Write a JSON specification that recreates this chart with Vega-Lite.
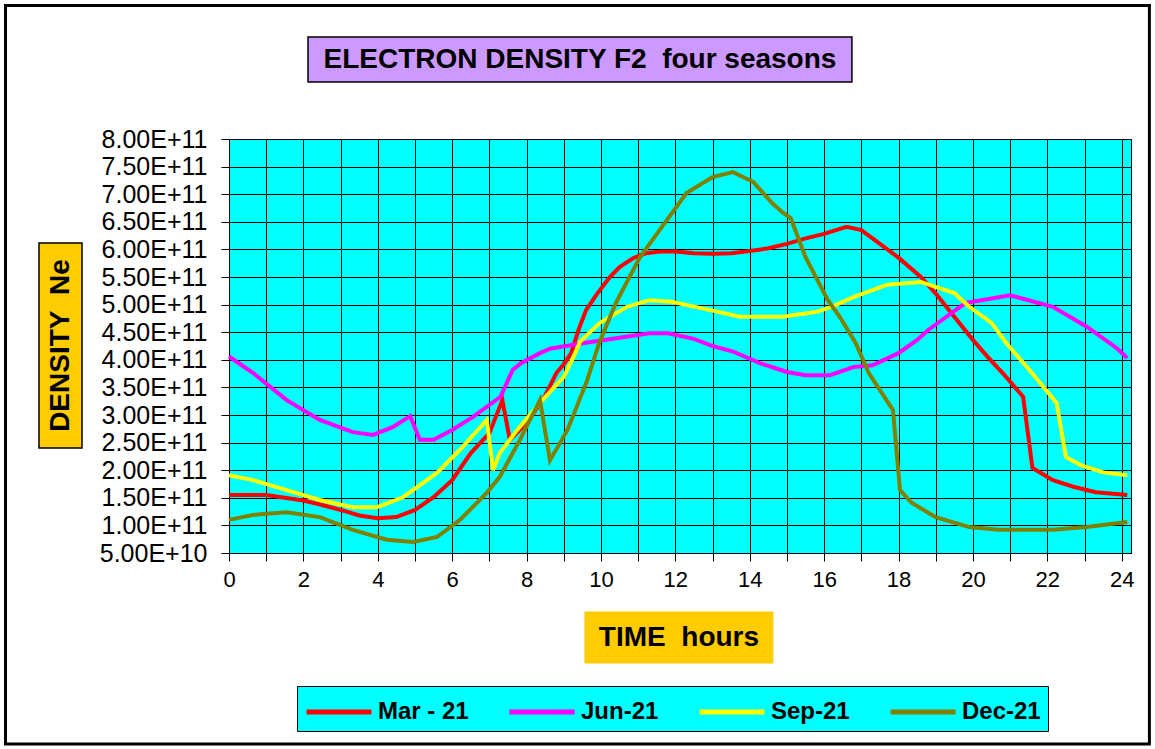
{
  "$schema": "https://vega.github.io/schema/vega-lite/v6.json",
  "autosize": "none",
  "width": 902,
  "height": 414,
  "padding": {"left": 229, "top": 139, "right": 24, "bottom": 196},
  "background": "#FFFFFF",
  "config": {
    "view": {"fill": "#00FFFF", "stroke": "#000000", "strokeWidth": 1},
    "axis": {"gridColor": "#000000", "gridOpacity": 1, "gridWidth": 1, "domainColor": "#000000", "tickColor": "#000000", "labelColor": "#000000", "labelFont": "Liberation Sans"},
    "text": {"font": "Liberation Sans"}
  },
  "datasets": {
    "density": [
      {"season":"Mar - 21","hour":0,"density":1.55e11},{"season":"Mar - 21","hour":0.5,"density":1.55e11},{"season":"Mar - 21","hour":1,"density":1.55e11},{"season":"Mar - 21","hour":1.5,"density":1.50e11},{"season":"Mar - 21","hour":2,"density":1.45e11},{"season":"Mar - 21","hour":2.5,"density":1.37e11},{"season":"Mar - 21","hour":3,"density":1.28e11},{"season":"Mar - 21","hour":3.5,"density":1.18e11},{"season":"Mar - 21","hour":4,"density":1.13e11},{"season":"Mar - 21","hour":4.5,"density":1.15e11},{"season":"Mar - 21","hour":5,"density":1.28e11},{"season":"Mar - 21","hour":5.5,"density":1.51e11},{"season":"Mar - 21","hour":6,"density":1.82e11},{"season":"Mar - 21","hour":6.5,"density":2.31e11},{"season":"Mar - 21","hour":7,"density":2.67e11},{"season":"Mar - 21","hour":7.35,"density":3.27e11},{"season":"Mar - 21","hour":7.55,"density":2.55e11},{"season":"Mar - 21","hour":8,"density":2.85e11},{"season":"Mar - 21","hour":8.5,"density":3.35e11},{"season":"Mar - 21","hour":8.8,"density":3.76e11},{"season":"Mar - 21","hour":9,"density":3.92e11},{"season":"Mar - 21","hour":9.2,"density":4.12e11},{"season":"Mar - 21","hour":9.4,"density":4.55e11},{"season":"Mar - 21","hour":9.6,"density":4.9e11},{"season":"Mar - 21","hour":9.9,"density":5.2e11},{"season":"Mar - 21","hour":10.24,"density":5.5e11},{"season":"Mar - 21","hour":10.5,"density":5.68e11},{"season":"Mar - 21","hour":10.86,"density":5.84e11},{"season":"Mar - 21","hour":11.2,"density":5.93e11},{"season":"Mar - 21","hour":11.6,"density":5.96e11},{"season":"Mar - 21","hour":12,"density":5.96e11},{"season":"Mar - 21","hour":12.5,"density":5.93e11},{"season":"Mar - 21","hour":13,"density":5.92e11},{"season":"Mar - 21","hour":13.5,"density":5.93e11},{"season":"Mar - 21","hour":14,"density":5.97e11},{"season":"Mar - 21","hour":14.5,"density":6.02e11},{"season":"Mar - 21","hour":15,"density":6.1e11},{"season":"Mar - 21","hour":15.5,"density":6.2e11},{"season":"Mar - 21","hour":16,"density":6.28e11},{"season":"Mar - 21","hour":16.6,"density":6.41e11},{"season":"Mar - 21","hour":17,"density":6.35e11},{"season":"Mar - 21","hour":17.5,"density":6.1e11},{"season":"Mar - 21","hour":18,"density":5.85e11},{"season":"Mar - 21","hour":18.6,"density":5.5e11},{"season":"Mar - 21","hour":19,"density":5.2e11},{"season":"Mar - 21","hour":19.5,"density":4.78e11},{"season":"Mar - 21","hour":20,"density":4.36e11},{"season":"Mar - 21","hour":20.4,"density":4.05e11},{"season":"Mar - 21","hour":20.8,"density":3.76e11},{"season":"Mar - 21","hour":21.35,"density":3.33e11},{"season":"Mar - 21","hour":21.6,"density":2.04e11},{"season":"Mar - 21","hour":22.15,"density":1.82e11},{"season":"Mar - 21","hour":22.7,"density":1.70e11},{"season":"Mar - 21","hour":23.3,"density":1.60e11},{"season":"Mar - 21","hour":24.15,"density":1.55e11},
      {"season":"Jun-21","hour":0,"density":4.06e11},{"season":"Jun-21","hour":0.65,"density":3.76e11},{"season":"Jun-21","hour":1.55,"density":3.27e11},{"season":"Jun-21","hour":2.44,"density":2.91e11},{"season":"Jun-21","hour":3.33,"density":2.69e11},{"season":"Jun-21","hour":3.87,"density":2.64e11},{"season":"Jun-21","hour":4.4,"density":2.78e11},{"season":"Jun-21","hour":4.87,"density":2.98e11},{"season":"Jun-21","hour":5.13,"density":2.55e11},{"season":"Jun-21","hour":5.5,"density":2.55e11},{"season":"Jun-21","hour":6,"density":2.73e11},{"season":"Jun-21","hour":6.55,"density":2.96e11},{"season":"Jun-21","hour":7.3,"density":3.33e11},{"season":"Jun-21","hour":7.63,"density":3.82e11},{"season":"Jun-21","hour":7.85,"density":3.94e11},{"season":"Jun-21","hour":8.36,"density":4.12e11},{"season":"Jun-21","hour":8.63,"density":4.2e11},{"season":"Jun-21","hour":9.5,"density":4.3e11},{"season":"Jun-21","hour":10.5,"density":4.4e11},{"season":"Jun-21","hour":11.3,"density":4.48e11},{"season":"Jun-21","hour":11.8,"density":4.48e11},{"season":"Jun-21","hour":12.5,"density":4.38e11},{"season":"Jun-21","hour":13,"density":4.25e11},{"season":"Jun-21","hour":13.55,"density":4.15e11},{"season":"Jun-21","hour":14.27,"density":3.94e11},{"season":"Jun-21","hour":15,"density":3.78e11},{"season":"Jun-21","hour":15.5,"density":3.72e11},{"season":"Jun-21","hour":16.16,"density":3.72e11},{"season":"Jun-21","hour":16.8,"density":3.87e11},{"season":"Jun-21","hour":17.3,"density":3.9e11},{"season":"Jun-21","hour":18,"density":4.12e11},{"season":"Jun-21","hour":18.5,"density":4.36e11},{"season":"Jun-21","hour":18.8,"density":4.54e11},{"season":"Jun-21","hour":19.8,"density":5.03e11},{"season":"Jun-21","hour":21,"density":5.17e11},{"season":"Jun-21","hour":22.15,"density":4.96e11},{"season":"Jun-21","hour":23.06,"density":4.6e11},{"season":"Jun-21","hour":23.87,"density":4.21e11},{"season":"Jun-21","hour":24.15,"density":4.03e11},
      {"season":"Sep-21","hour":0,"density":1.91e11},{"season":"Sep-21","hour":0.65,"density":1.82e11},{"season":"Sep-21","hour":1.55,"density":1.64e11},{"season":"Sep-21","hour":2.44,"density":1.46e11},{"season":"Sep-21","hour":3.33,"density":1.33e11},{"season":"Sep-21","hour":3.98,"density":1.33e11},{"season":"Sep-21","hour":4.68,"density":1.51e11},{"season":"Sep-21","hour":5.59,"density":1.95e11},{"season":"Sep-21","hour":6.21,"density":2.37e11},{"season":"Sep-21","hour":6.93,"density":2.91e11},{"season":"Sep-21","hour":7.1,"density":2.0e11},{"season":"Sep-21","hour":7.28,"density":2.31e11},{"season":"Sep-21","hour":7.75,"density":2.73e11},{"season":"Sep-21","hour":8.36,"density":3.22e11},{"season":"Sep-21","hour":9,"density":3.69e11},{"season":"Sep-21","hour":9.26,"density":4.05e11},{"season":"Sep-21","hour":9.44,"density":4.33e11},{"season":"Sep-21","hour":9.97,"density":4.67e11},{"season":"Sep-21","hour":10.7,"density":4.96e11},{"season":"Sep-21","hour":11.3,"density":5.08e11},{"season":"Sep-21","hour":11.9,"density":5.05e11},{"season":"Sep-21","hour":12.66,"density":4.94e11},{"season":"Sep-21","hour":13.74,"density":4.78e11},{"season":"Sep-21","hour":14.9,"density":4.78e11},{"season":"Sep-21","hour":15.8,"density":4.87e11},{"season":"Sep-21","hour":16.2,"density":4.96e11},{"season":"Sep-21","hour":16.8,"density":5.14e11},{"season":"Sep-21","hour":17.7,"density":5.36e11},{"season":"Sep-21","hour":18.6,"density":5.41e11},{"season":"Sep-21","hour":19.5,"density":5.21e11},{"season":"Sep-21","hour":19.9,"density":4.96e11},{"season":"Sep-21","hour":20.5,"density":4.67e11},{"season":"Sep-21","hour":20.9,"density":4.3e11},{"season":"Sep-21","hour":21.45,"density":3.87e11},{"season":"Sep-21","hour":22.25,"density":3.22e11},{"season":"Sep-21","hour":22.5,"density":2.24e11},{"season":"Sep-21","hour":22.9,"density":2.09e11},{"season":"Sep-21","hour":23.5,"density":1.96e11},{"season":"Sep-21","hour":24.15,"density":1.91e11},
      {"season":"Dec-21","hour":0,"density":1.10e11},{"season":"Dec-21","hour":0.65,"density":1.19e11},{"season":"Dec-21","hour":1.55,"density":1.24e11},{"season":"Dec-21","hour":2.44,"density":1.15e11},{"season":"Dec-21","hour":3.33,"density":0.92e11},{"season":"Dec-21","hour":4.24,"density":0.74e11},{"season":"Dec-21","hour":4.95,"density":0.70e11},{"season":"Dec-21","hour":5.59,"density":0.79e11},{"season":"Dec-21","hour":6.21,"density":1.10e11},{"season":"Dec-21","hour":6.93,"density":1.59e11},{"season":"Dec-21","hour":7.28,"density":1.88e11},{"season":"Dec-21","hour":7.82,"density":2.55e11},{"season":"Dec-21","hour":8.36,"density":3.27e11},{"season":"Dec-21","hour":8.63,"density":2.18e11},{"season":"Dec-21","hour":9.1,"density":2.73e11},{"season":"Dec-21","hour":9.63,"density":3.63e11},{"season":"Dec-21","hour":9.95,"density":4.3e11},{"season":"Dec-21","hour":10.4,"density":5.03e11},{"season":"Dec-21","hour":11.05,"density":5.86e11},{"season":"Dec-21","hour":11.77,"density":6.53e11},{"season":"Dec-21","hour":12.3,"density":7.02e11},{"season":"Dec-21","hour":13,"density":7.31e11},{"season":"Dec-21","hour":13.55,"density":7.40e11},{"season":"Dec-21","hour":14.1,"density":7.22e11},{"season":"Dec-21","hour":14.6,"density":6.84e11},{"season":"Dec-21","hour":14.9,"density":6.66e11},{"season":"Dec-21","hour":15.1,"density":6.57e11},{"season":"Dec-21","hour":15.5,"density":5.86e11},{"season":"Dec-21","hour":16.1,"density":5.08e11},{"season":"Dec-21","hour":16.42,"density":4.78e11},{"season":"Dec-21","hour":16.85,"density":4.30e11},{"season":"Dec-21","hour":17.2,"density":3.76e11},{"season":"Dec-21","hour":17.85,"density":3.09e11},{"season":"Dec-21","hour":18.04,"density":1.64e11},{"season":"Dec-21","hour":18.35,"density":1.41e11},{"season":"Dec-21","hour":19,"density":1.15e11},{"season":"Dec-21","hour":19.9,"density":0.97e11},{"season":"Dec-21","hour":20.7,"density":0.92e11},{"season":"Dec-21","hour":22.15,"density":0.92e11},{"season":"Dec-21","hour":23.06,"density":0.97e11},{"season":"Dec-21","hour":24.15,"density":1.06e11}
    ]
  },
  "layer": [
    {
      "data": {"name": "density"},
      "mark": {"type": "line", "strokeWidth": 4, "clip": false},
      "encoding": {
        "x": {
          "field": "hour", "type": "quantitative",
          "scale": {"domain": [0, 24.25], "nice": false, "zero": false},
          "axis": {
            "title": null,
            "values": [0,1,2,3,4,5,6,7,8,9,10,11,12,13,14,15,16,17,18,19,20,21,22,23,24],
            "tickCount": 40,
            "labelExpr": "datum.value % 2 == 0 ? format(datum.value, 'd') : ''",
            "grid": true, "ticks": true, "tickSize": 8, "labelPadding": 8,
            "labelFontSize": 22, "labelFlush": false, "labelOverlap": false
          }
        },
        "y": {
          "field": "density", "type": "quantitative",
          "scale": {"domain": [5e10, 8e11], "nice": false, "zero": false},
          "axis": {
            "title": null,
            "values": [5e10,1e11,1.5e11,2e11,2.5e11,3e11,3.5e11,4e11,4.5e11,5e11,5.5e11,6e11,6.5e11,7e11,7.5e11,8e11],
            "tickCount": 40,
            "labelExpr": "upper(format(datum.value, '.2e'))",
            "grid": true, "ticks": true, "tickSize": 8, "labelPadding": 14,
            "labelFontSize": 25, "labelOverlap": false, "labelFlush": false
          }
        },
        "color": {
          "field": "season", "type": "nominal",
          "scale": {"domain": ["Mar - 21", "Jun-21", "Sep-21", "Dec-21"], "range": ["#FF0000", "#FF00FF", "#FFFF00", "#808000"]},
          "legend": {
            "orient": "none", "legendX": 68, "legendY": 547,
            "direction": "horizontal", "columns": 4, "title": null,
            "fillColor": "#00FFFF", "strokeColor": "#000000", "padding": 7,
            "symbolType": "M-2,0H2", "symbolSize": 1056, "symbolStrokeWidth": 5, "symbolOffset": 16,
            "symbolFillColor": "transparent",
            "labelFont": "Liberation Sans", "labelFontWeight": "bold", "labelFontSize": 24, "labelColor": "#000000",
            "columnPadding": 30, "labelOffset": 20, "labelLimit": 200
          }
        },
        "order": {"field": "hour", "type": "quantitative"}
      }
    },
    {
      "data": {"values": [{}]},
      "mark": {"type": "rect", "fill": "#FFFFFF", "fillOpacity": 0, "stroke": "#000000", "strokeWidth": 3},
      "encoding": {
        "x": {"datum": -6.008, "type": "quantitative"},
        "x2": {"datum": 24.745},
        "y": {"datum": 1.0418e12, "type": "quantitative"},
        "y2": {"datum": -2.96e11}
      }
    },
    {
      "data": {"values": [{}]},
      "mark": {"type": "rect", "fill": "#CC99FF", "stroke": "#000000", "strokeWidth": 1.5},
      "encoding": {
        "x": {"datum": 2.124, "type": "quantitative"},
        "x2": {"datum": 16.747},
        "y": {"datum": 9.848e11, "type": "quantitative"},
        "y2": {"datum": 9.033e11}
      }
    },
    {
      "data": {"values": [{}]},
      "mark": {"type": "text", "text": "ELECTRON DENSITY F2\u00a0 four seasons", "font": "Liberation Sans", "fontWeight": "bold", "fontSize": 28, "color": "#000000", "align": "center", "baseline": "middle"},
      "encoding": {
        "x": {"datum": 9.435, "type": "quantitative"},
        "y": {"datum": 9.44e11, "type": "quantitative"}
      }
    },
    {
      "data": {"values": [{}]},
      "mark": {"type": "rect", "fill": "#FFCC00", "stroke": "#000000", "strokeWidth": 1.5},
      "encoding": {
        "x": {"datum": -5.108, "type": "quantitative"},
        "x2": {"datum": -3.952},
        "y": {"datum": 6.116e11, "type": "quantitative"},
        "y2": {"datum": 2.402e11}
      }
    },
    {
      "data": {"values": [{}]},
      "mark": {"type": "text", "text": "DENSITY\u00a0 Ne", "font": "Liberation Sans", "fontWeight": "bold", "fontSize": 28, "color": "#000000", "align": "center", "baseline": "middle", "angle": 270},
      "encoding": {
        "x": {"datum": -4.53, "type": "quantitative"},
        "y": {"datum": 4.259e11, "type": "quantitative"}
      }
    },
    {
      "data": {"values": [{}]},
      "mark": {"type": "rect", "fill": "#FFCC00", "stroke": "#FFCC00", "strokeWidth": 1},
      "encoding": {
        "x": {"datum": 9.570, "type": "quantitative"},
        "x2": {"datum": 14.624},
        "y": {"datum": -0.569e11, "type": "quantitative"},
        "y2": {"datum": -1.493e11}
      }
    },
    {
      "data": {"values": [{}]},
      "mark": {"type": "text", "text": "TIME\u00a0 hours", "font": "Liberation Sans", "fontWeight": "bold", "fontSize": 28, "color": "#000000", "align": "center", "baseline": "middle"},
      "encoding": {
        "x": {"datum": 12.097, "type": "quantitative"},
        "y": {"datum": -1.031e11, "type": "quantitative"}
      }
    }
  ]
}
